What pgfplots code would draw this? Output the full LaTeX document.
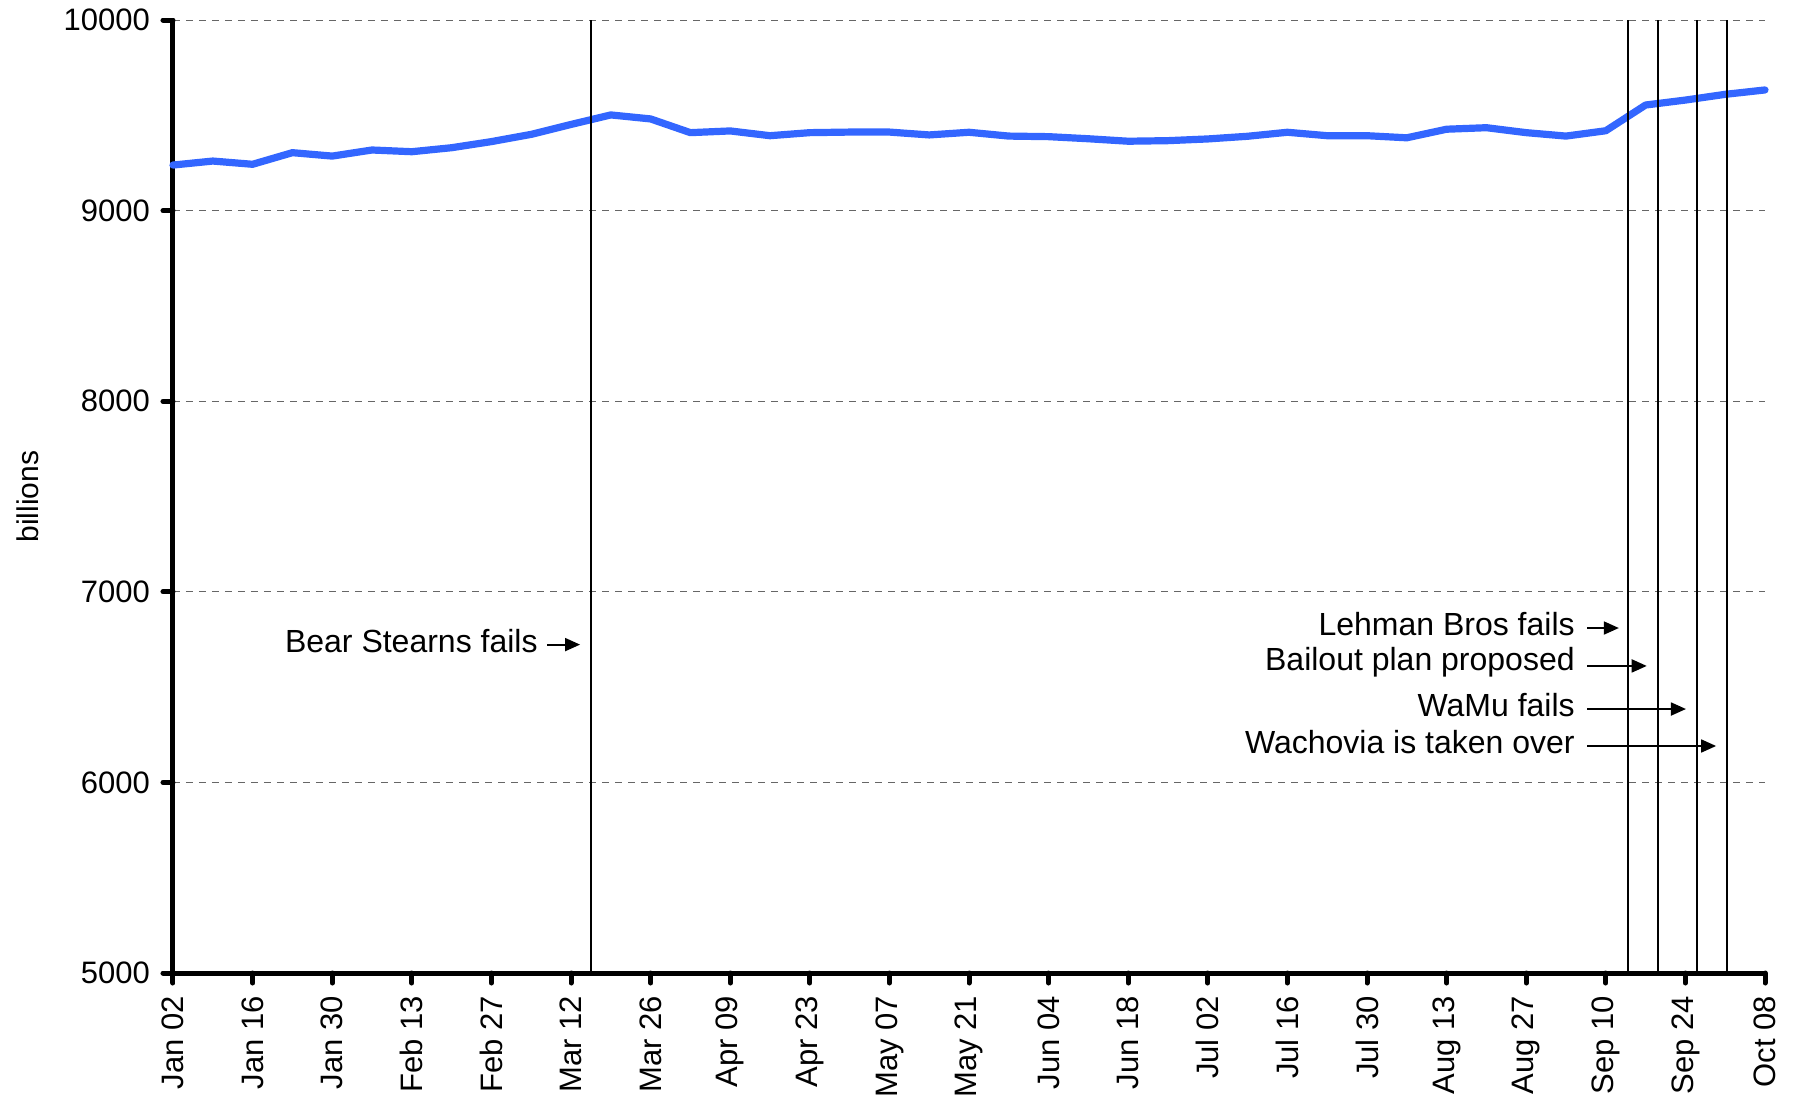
\documentclass[border=0pt]{standalone}
\usepackage{fontspec}
\setmainfont{Liberation Sans}
\usepackage{pgfplots}
\usepackage{pgfplotstable}
\pgfplotsset{compat=1.18}
\usetikzlibrary{arrows.meta}

\definecolor{lineblue}{RGB}{51,102,255}

% weekly values, week index (Wednesdays from Jan 02) and billions
\pgfplotstableread{
wk val
0 9239
1 9260
2 9243
3 9304
4 9286
5 9318
6 9309
7 9330
8 9362
9 9400
10 9452
11 9502
12 9481
13 9409
14 9418
15 9393
16 9409
17 9412
18 9412
19 9397
20 9411
21 9391
22 9388
23 9377
24 9364
25 9367
26 9376
27 9390
28 9411
29 9393
30 9393
31 9382
32 9427
33 9435
34 9409
35 9391
36 9419
37 9554
38 9580
39 9610
40 9633
}\weekly

\begin{document}
\begin{tikzpicture}
\begin{axis}[
    at={(0,0)}, anchor=south west,
    scale only axis,
    width=796pt, height=476.5pt,
    xmin=0, xmax=280, ymin=5000, ymax=10000,
    clip=false,
    axis x line*=bottom, axis y line*=left,
    axis line style={line width=2.5pt, black},
    tick align=outside,
    major tick length=5pt,
    every tick/.style={line width=2.5pt, black, line cap=round},
    xtick={0,14,...,280},
    xticklabels={Jan 02,Jan 16,Jan 30,Feb 13,Feb 27,Mar 12,Mar 26,Apr 09,Apr 23,May 07,May 21,Jun 04,Jun 18,Jul 02,Jul 16,Jul 30,Aug 13,Aug 27,Sep 10,Sep 24,Oct 08},
    xticklabel style={rotate=90, anchor=east, font=\fontsize{15.5}{18}\selectfont, xshift=-3pt},
    ytick={5000,6000,...,10000},
    scaled y ticks=false,
    yticklabel style={font=\fontsize{15.5}{18}\selectfont, xshift=-3pt},
    /pgf/number format/assume math mode=true,
    /pgf/number format/1000 sep={},
    ymajorgrids,
    grid style={black!60, line width=0.5pt, dash pattern=on 3.5pt off 3pt},
    ylabel={billions},
    ylabel style={at={(axis description cs:-0.0911,0.5)}, anchor=center, font=\fontsize{15}{18}\selectfont},
]
\addplot[lineblue, line width=3.6pt, line join=round, line cap=round] table[x expr=7*\thisrow{wk}, y=val]{\weekly};

% event lines
\pgfplotsinvokeforeach{73.5,255.9,261.2,268.0,273.3}{
  \draw[black, line width=0.8pt] (axis cs:#1,5000) -- (axis cs:#1,10000);
}

% annotations
\tikzset{evarrow/.style={line width=0.9pt, -{Triangle[length=7.5pt,width=6.5pt]}}}
\draw[evarrow] (axis cs:65.8,6723) -- (axis cs:71.6,6723);
\node[anchor=east, inner sep=0pt, yshift=2pt, font=\fontsize{16}{19}\selectfont] at (axis cs:64.2,6723) {Bear Stearns fails};

\draw[evarrow] (axis cs:248.7,6810) -- (axis cs:254.3,6810);
\node[anchor=east, inner sep=0pt, yshift=2pt, font=\fontsize{16}{19}\selectfont] at (axis cs:246.6,6810) {Lehman Bros fails};

\draw[evarrow] (axis cs:248.7,6611) -- (axis cs:259.2,6611);
\node[anchor=east, inner sep=0pt, yshift=2pt, font=\fontsize{16}{19}\selectfont] at (axis cs:246.6,6611) {Bailout plan proposed};

\draw[evarrow] (axis cs:248.7,6385) -- (axis cs:266.1,6385);
\node[anchor=east, inner sep=0pt, yshift=2pt, font=\fontsize{16}{19}\selectfont] at (axis cs:246.6,6385) {WaMu fails};

\draw[evarrow] (axis cs:248.7,6191) -- (axis cs:271.4,6191);
\node[anchor=east, inner sep=0pt, yshift=2pt, font=\fontsize{16}{19}\selectfont] at (axis cs:246.6,6191) {Wachovia is taken over};
\end{axis}
\pgfresetboundingbox
\path[use as bounding box] (-86.5pt,-63pt) rectangle (811pt,486.5pt);
\end{tikzpicture}
\end{document}
